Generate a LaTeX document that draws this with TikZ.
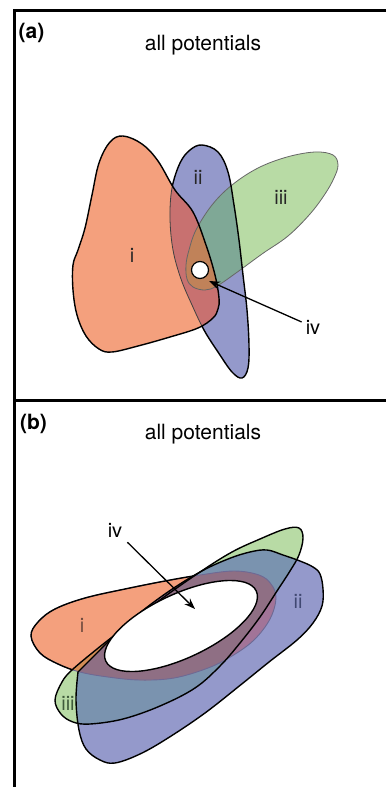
\documentclass[tikz,border=0pt]{standalone}
\usepackage{fontspec}
\setmainfont{TeX Gyre Heros}
\usetikzlibrary{arrows.meta,shapes.geometric}

\definecolor{setone}{HTML}{F4A07D}
\definecolor{settwo}{HTML}{9499CB}
\definecolor{setthree}{HTML}{B8DBA5}
\definecolor{onetwoA}{HTML}{C87170}
\definecolor{twothreeA}{HTML}{7FA896}
\definecolor{allA}{HTML}{C08259}
\definecolor{onetwoB}{HTML}{A27498}
\definecolor{onethreeB}{HTML}{D28D55}
\definecolor{twothreeB}{HTML}{7A93AF}
\definecolor{allB}{HTML}{8F6F84}
\definecolor{ringedge}{HTML}{6C6A96}
\definecolor{lblone}{HTML}{6E4A3E}
\definecolor{lbltwo}{HTML}{404872}
\definecolor{lblthree}{HTML}{3E5A3A}

% set outlines, panel (a)
\def\setIa{plot[smooth cycle,tension=0.6] coordinates {(123,136) (142,144) (158,161) (175,190) (193,212) (206,245) (215,275) (219,298) (218,309) (213,318) (198,328) (170,337) (138,346) (112,352) (99,349) (86,336) (77,315) (73,290) (73,265) (78,250) (85,228) (92,195) (99,163) (110,142)}}
\def\setIIa{plot[smooth cycle,tension=0.6] coordinates {(202,145) (218,152) (228,172) (234,205) (239,240) (243,275) (247,310) (249,345) (248,368) (242,378) (232,372) (218,352) (204,330) (192,305) (181,279) (173,250) (170,218) (172,188) (180,163) (190,150)}}
\def\setIIIa{plot[smooth cycle,tension=0.6] coordinates {(338,165) (334,178) (325,194) (310,214) (288,236) (262,254) (236,273) (217,286) (205,290) (193,287) (187,279) (186,265) (189,250) (196,230) (212,205) (232,185) (258,168) (287,157) (315,152) (333,155)}}
% set outlines, panel (b)
\def\setIb{plot[smooth cycle,tension=0.6] coordinates {(31,636) (38,622) (55,609) (85,598) (125,589) (165,581) (200,575) (234,571) (259,575) (271,584) (276,598) (270,619) (254,640) (232,656) (208,668) (174,678) (140,680) (108,677) (80,672) (58,664) (40,653)}}
\def\setIIb{plot[smooth,tension=0.6] coordinates {(78,672) (76,700) (79,730) (86,749) (100,760) (115,763) (140,754) (168,738) (205,713) (243,683) (269,662) (297,640) (313,623) (322,606) (323,589) (320,574) (313,567) (300,561) (283,555) (267,550) (250,552) (228,559) (200,572) (165,594) (130,621) (100,650)} -- cycle}
\def\setIIIb{plot[smooth cycle,tension=0.6] coordinates {(299,528) (303,538) (299,555) (290,571) (277,591) (260,617) (240,643) (220,666) (195,688) (160,706) (123,719) (90,724) (73,722) (61,714) (55,700) (62,682) (72,670) (97,649) (120,631) (160,600) (200,572) (232,552) (260,539) (285,529)}}

\begin{document}
\begin{tikzpicture}[x=1pt,y=-1pt,
  font=\fontsize{21}{25}\selectfont, >=Stealth,
  frame/.style={line width=3pt},
  outline/.style={draw=black,line width=1.4pt},
  faint/.style={draw=black!60,line width=0.8pt},
  hidden/.style={draw=black!75,line width=0.8pt},
  ringline/.style={draw=ringedge,line width=0.9pt},
  title/.style={anchor=base,inner sep=0pt},
  tag/.style={title,font=\fontsize{21}{25}\selectfont\bfseries},
  setlabel/.style={inner sep=0pt,font=\fontsize{20}{24}\selectfont},
  pointer/.style={-{Stealth[length=11pt,width=8pt]},line width=1.3pt},
]
\useasboundingbox (0,0) rectangle (386,787);
% frames
\draw[frame] (386,10) -- (14,10) -- (14,787);
\draw[frame] (14,400) -- (386,400);

% panel (a)
\node[tag] (tagA) at (31.5,38) {(a)};
\node[title] (titleA) at (203,50) {all potentials};
\fill[settwo] \setIIa;
\fill[setthree] \setIIIa;
\fill[setone] \setIa;
\begin{scope}
  \clip \setIIa;
  \fill[twothreeA] \setIIIa;
\end{scope}
\begin{scope}
  \clip \setIa;
  \fill[onetwoA] \setIIa;
  \fill[allA] \setIIIa;
\end{scope}
\draw[faint] \setIIIa;
\begin{scope}
  \clip \setIa;
  \draw[hidden] \setIIa;
\end{scope}
\begin{scope}[even odd rule]
  \clip (0,0) rectangle (386,787) \setIa;
  \draw[outline] \setIIa;
\end{scope}
\draw[outline] \setIa;
\node[circle,draw,fill=white,line width=1.2pt,minimum size=17pt,inner sep=0pt] (holeA) at (200,270) {};
\node[setlabel,text=black!85] (lblIa) at (132,255) {i};
\node[setlabel,text=black!85] (lblIIa) at (198,177) {ii};
\node[setlabel,text=black!85] (lblIIIa) at (281,197) {iii};
\node[setlabel,inner sep=4pt] (lblIVa) at (313,327) {iv};
\coordinate (tipA) at (209,281);
\draw[pointer] (lblIVa) -- (tipA);

% panel (b)
\node[tag] (tagB) at (33.5,429) {(b)};
\node[title] (titleB) at (203,439) {all potentials};
\fill[settwo] \setIIb;
\fill[setthree] \setIIIb;
\fill[setone] \setIb;
\begin{scope}
  \clip \setIIb;
  \fill[twothreeB] \setIIIb;
\end{scope}
\begin{scope}
  \clip \setIb;
  \fill[onetwoB] \setIIb;
  \fill[onethreeB] \setIIIb;
  \clip \setIIb;
  \fill[allB] \setIIIb;
\end{scope}
\draw[ringline] \setIb;
\begin{scope}[even odd rule]
  \clip (0,400) rectangle (386,787) \setIIb;
  \clip (0,400) rectangle (386,787) \setIIIb;
  \draw[outline] \setIb;
\end{scope}
\draw[outline] \setIIb;
\draw[outline] \setIIIb;
\node[ellipse,draw,fill=white,line width=1.4pt,minimum width=166pt,minimum height=64pt,inner sep=0pt,rotate=25] (holeB) at (181,626) {};
\node[setlabel,text=lblone] (lblIb) at (82,625) {i};
\node[setlabel,text=lbltwo] (lblIIb) at (298,601) {ii};
\node[setlabel,text=lblthree] (lblIIIb) at (68,703) {iii};
\node[setlabel,inner sep=5pt] (lblIVb) at (115,530) {iv};
\coordinate (tipB) at (195,609);
\draw[pointer] (lblIVb) -- (tipB);
\end{tikzpicture}
\end{document}
